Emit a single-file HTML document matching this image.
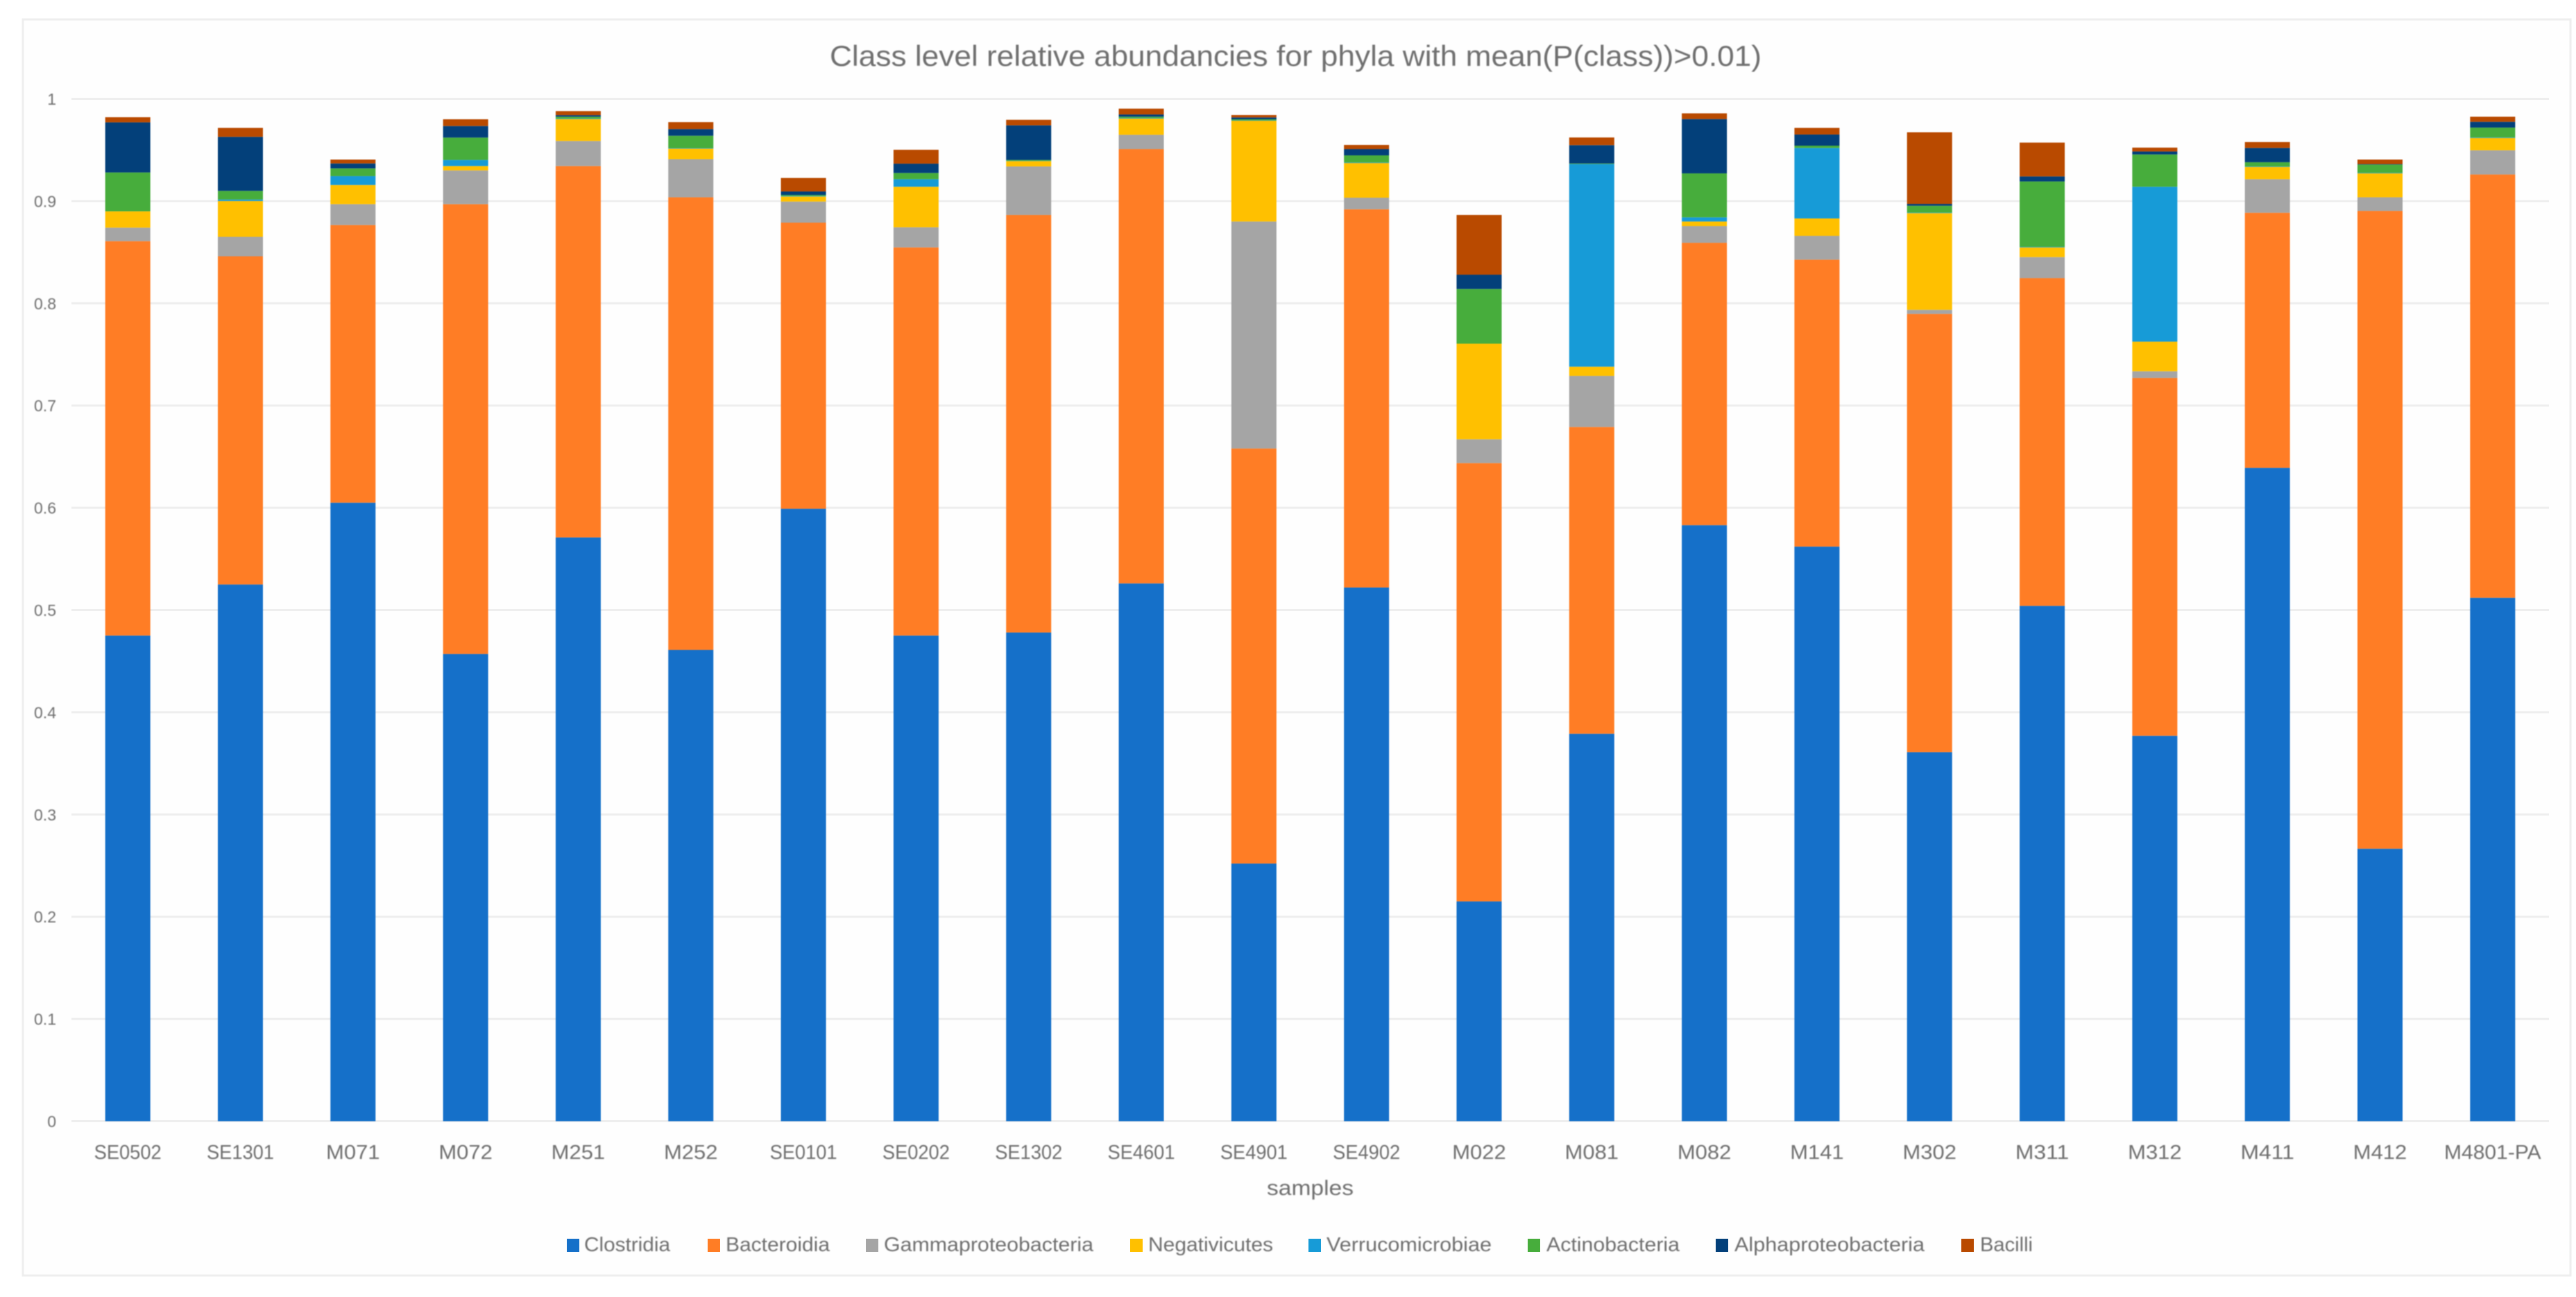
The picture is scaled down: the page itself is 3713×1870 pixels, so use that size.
<!DOCTYPE html>
<html lang="en">
<head>
<meta charset="utf-8">
<title>Class level relative abundancies</title>
<style>
html,body{margin:0;padding:0;background:#fff;width:3713px;height:1870px;overflow:hidden}
svg{display:block;font-family:"Liberation Sans",sans-serif}
text{fill:#6f6f6f;filter:blur(.7px)}
#bars{filter:blur(.6px)}
</style>
</head>
<body>
<svg id="chart" xmlns="http://www.w3.org/2000/svg" width="3713" height="1870" viewBox="0 0 3713 1870">
  <rect x="33" y="28" width="3672" height="1811" fill="#fefefe" stroke="#eeeeee" stroke-width="3"/>
  <text x="1196" y="95" font-size="42" textLength="1343" lengthAdjust="spacingAndGlyphs">Class level relative abundancies for phyla with mean(P(class))&gt;0.01)</text>
  <g id="grid"></g>
  <g id="bars"></g>
  <g id="yticks"></g>
  <g id="xticks"></g>
  <text x="1826" y="1723" font-size="31" textLength="125" lengthAdjust="spacingAndGlyphs">samples</text>
  <g font-size="29">
    <g><rect x="817" y="1786" width="18" height="19" fill="#1570c9"/><text x="842" y="1804" textLength="124" lengthAdjust="spacingAndGlyphs">Clostridia</text></g>
    <g><rect x="1020" y="1786" width="18" height="19" fill="#ff7d25"/><text x="1046" y="1804" textLength="150" lengthAdjust="spacingAndGlyphs">Bacteroidia</text></g>
    <g><rect x="1248" y="1786" width="18" height="19" fill="#a5a5a5"/><text x="1274" y="1804" textLength="302" lengthAdjust="spacingAndGlyphs">Gammaproteobacteria</text></g>
    <g><rect x="1629" y="1786" width="18" height="19" fill="#ffc000"/><text x="1655" y="1804" textLength="180" lengthAdjust="spacingAndGlyphs">Negativicutes</text></g>
    <g><rect x="1886" y="1786" width="18" height="19" fill="#179bd7"/><text x="1912" y="1804" textLength="238" lengthAdjust="spacingAndGlyphs">Verrucomicrobiae</text></g>
    <g><rect x="2202" y="1786" width="18" height="19" fill="#47ad3c"/><text x="2229" y="1804" textLength="192" lengthAdjust="spacingAndGlyphs">Actinobacteria</text></g>
    <g><rect x="2473" y="1786" width="18" height="19" fill="#03407a"/><text x="2500" y="1804" textLength="274" lengthAdjust="spacingAndGlyphs">Alphaproteobacteria</text></g>
    <g><rect x="2827" y="1786" width="18" height="19" fill="#b94a00"/><text x="2854" y="1804" textLength="76" lengthAdjust="spacingAndGlyphs">Bacilli</text></g>
  </g>
</svg>
<script>
const samples = ['SE0502','SE1301','M071','M072','M251','M252','SE0101','SE0202','SE1302','SE4601','SE4901','SE4902','M022','M081','M082','M141','M302','M311','M312','M411','M412','M4801-PA'];
const clostridia = [.475,.525,.605,.457,.571,.461,.599,.475,.478,.526,.252,.522,.215,.379,.583,.562,.361,.504,.377,.639,.2665,.512];
const bacteroidia = [.3858,.321,.2716,.44,.3633,.4427,.2799,.3797,.4084,.4248,.406,.37,.4287,.30,.2762,.2807,.4286,.3206,.35,.2496,.6239,.414];
const gammaproteobacteria = [.0132,.019,.0204,.033,.0245,.0373,.0206,.0197,.0475,.014,.222,.0113,.0233,.05,.0163,.0233,.004,.0206,.0065,.0328,.0133,.0237];
const negativicutes = [.016,.035,.0187,.0043,.0214,.0103,.005,.0396,.0052,.0159,.0986,.0339,.0935,.009,.0045,.017,.0946,.0095,.029,.012,.0234,.012];
const verrucomicrobiae = [0,.0015,.0087,.0059,.0005,.0005,.0005,.0074,.0002,.0006,.0004,.0005,0,.1982,.0041,.069,.0004,.0005,.1515,.0005,.0005,.0005];
const actinobacteria = [.038,.0085,.0076,.0219,.0018,.0121,.001,.0061,.0009,.0012,.001,.007,.0535,.0006,.043,.0022,.0068,.064,.0316,.0041,.0081,.0097];
const alphaproteobacteria = [.049,.0528,.0048,.0113,.0015,.0065,.0034,.0091,.0339,.0022,.0018,.0061,.014,.0179,.0531,.0109,.0018,.0049,.0029,.014,.0005,.0056];
const bacilli = [.005,.0088,.0038,.0066,.004,.0068,.0132,.0136,.0054,.0057,.0023,.0041,.0584,.0075,.0056,.0065,.0701,.0331,.0038,.0057,.0044,.005];
const yTickValues = [0,.1,.2,.3,.4,.5,.6,.7,.8,.9,1];
const yTickLabels = ['0','0.1','0.2','0.3','0.4','0.5','0.6','0.7','0.8','0.9','1'];

const seriesList = [
  ['clostridia', clostridia, '#1570c9'],
  ['bacteroidia', bacteroidia, '#ff7d25'],
  ['gammaproteobacteria', gammaproteobacteria, '#a5a5a5'],
  ['negativicutes', negativicutes, '#ffc000'],
  ['verrucomicrobiae', verrucomicrobiae, '#179bd7'],
  ['actinobacteria', actinobacteria, '#47ad3c'],
  ['alphaproteobacteria', alphaproteobacteria, '#03407a'],
  ['bacilli', bacilli, '#b94a00']
];

const NS = 'http://www.w3.org/2000/svg';
const plotLeft = 103, plotRight = 3674, plotBottom = 1616.5, plotTop = 142.5, barWidth = 65;
const bandWidth = (plotRight - plotLeft) / samples.length;
function xCenter(i) { return plotLeft + bandWidth * (i + 0.5); }
function yPos(v) { return plotBottom - v * (plotBottom - plotTop); }

/* Approximate advance widths of the original label face, used to fit tick labels */
const charWidths = {S:.459,E:.488,M:.855,P:.517,A:.579,'-':.306};
function labelWidth(s) {
  let w = 0;
  for (const c of s) w += (c in charWidths ? charWidths[c] : .507);
  return w * 32.6;
}

const grid = document.getElementById('grid');
const yticks = document.getElementById('yticks');
yTickValues.forEach(function (v, i) {
  const line = document.createElementNS(NS, 'line');
  
  
  line.setAttribute('x1', plotLeft);
  line.setAttribute('x2', plotRight);
  line.setAttribute('y1', yPos(v));
  line.setAttribute('y2', yPos(v));
  line.setAttribute('stroke', '#eeeeee');
  line.setAttribute('stroke-width', '3');
  grid.appendChild(line);
  const t = document.createElementNS(NS, 'text');
  
  
  t.setAttribute('x', 81);
  t.setAttribute('y', yPos(v) + 8.5);
  t.setAttribute('text-anchor', 'end');
  t.setAttribute('font-size', '23');
  t.textContent = yTickLabels[i];
  yticks.appendChild(t);
});

const bars = document.getElementById('bars');
const xticks = document.getElementById('xticks');
samples.forEach(function (name, i) {
  let cum = 0;
  seriesList.forEach(function (s) {
    const val = s[1][i];
    if (val > 0) {
      const r = document.createElementNS(NS, 'rect');
      
      
      r.setAttribute('data-series', s[0]);
      r.setAttribute('x', xCenter(i) - barWidth / 2);
      r.setAttribute('y', yPos(cum + val));
      r.setAttribute('width', barWidth);
      r.setAttribute('height', yPos(cum) - yPos(cum + val));
      r.setAttribute('fill', s[2]);
      bars.appendChild(r);
    }
    cum += val;
  });
  const t = document.createElementNS(NS, 'text');
  
  
  t.setAttribute('x', xCenter(i) - labelWidth(name) / 2);
  t.setAttribute('y', 1671);
  t.setAttribute('font-size', '29');
  t.setAttribute('textLength', labelWidth(name));
  t.setAttribute('lengthAdjust', 'spacingAndGlyphs');
  t.textContent = name;
  xticks.appendChild(t);
});
</script>
</body>
</html>
